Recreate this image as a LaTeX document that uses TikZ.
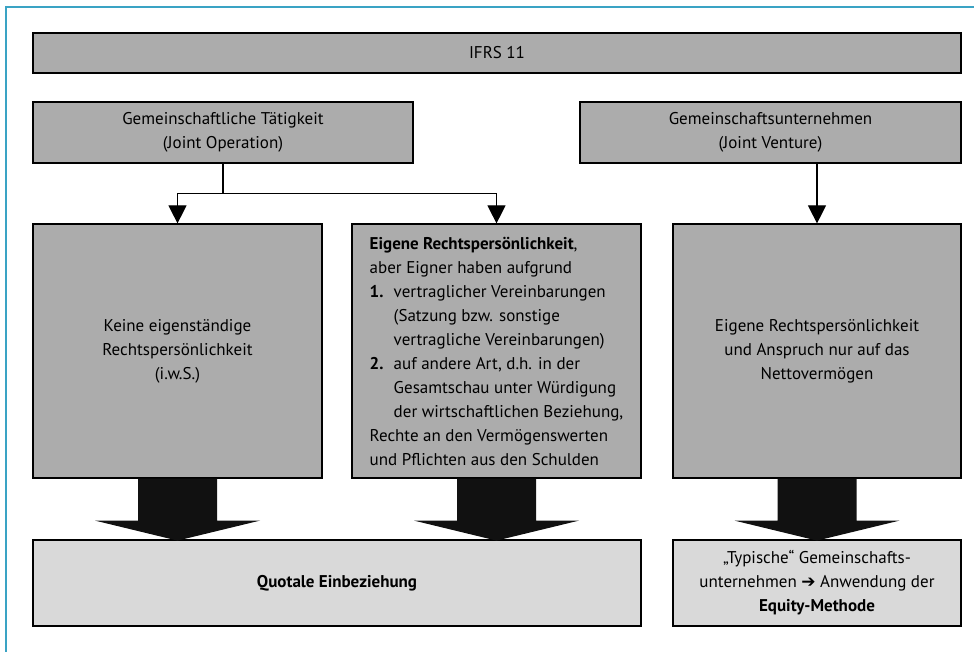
\documentclass[tikz,border=0pt]{standalone}
\usepackage{fontspec}
\setmainfont{PT Sans}
\newfontfamily\arrowfont{DejaVu Sans}
\usepackage{xcolor}
\usetikzlibrary{arrows.meta}

\definecolor{frameblue}{HTML}{3AA3C4}
\definecolor{boxgray}{HTML}{ACACAC}
\definecolor{resultgray}{HTML}{D9D9D9}
\definecolor{arrowblack}{HTML}{111111}

\tikzset{
  box/.style={draw=black, line width=1.2pt, fill=boxgray, align=center,
    inner sep=0pt, font=\fontsize{17}{24}\selectfont},
  resultbox/.style={box, fill=resultgray},
  conn/.style={line width=1.2pt, -{Triangle[width=18pt,length=18pt]}},
  bigarrow/.style={fill=arrowblack}
}
% thick block arrow below a box
\newcommand{\fatarrow}[1]{%
  \fill[bigarrow] (#1.south) ++(-39.5,0) -- ++(0,42) -- ++(-43,0)
    -- ++(82.5,20) -- ++(82.5,-20) -- ++(-43,0) -- ++(0,-42) -- cycle;}

\begin{document}
\begin{tikzpicture}[x=1pt, y=-1pt]
\useasboundingbox (0,0) rectangle (974,652);
\fill[white] (0,0) rectangle (974,652);
\draw[frameblue, line width=2.5pt] (6,652) -- (6,7) -- (974,7);

% top row
\node[box, minimum width=928, minimum height=40] (ifrs) at (497,53) {IFRS 11};
\node[box, minimum width=380, minimum height=61] (jo) at (223,132.5)
  {Gemeinschaftliche Tätigkeit\\(Joint Operation)};
\node[box, minimum width=381, minimum height=61] (jv) at (770.5,132.5)
  {Gemeinschaftsunternehmen\\(Joint Venture)};

% middle row
\node[box, minimum width=289, minimum height=254] (keine) at (177.5,351)
  {Keine eigenständige\\Rechtspersönlichkeit\\(i.w.S.)};
\node[box, minimum width=289, minimum height=254, align=left] (eigene) at (496.5,351)
  {\textbf{Eigene Rechtspersönlichkeit},\\
   aber Eigner haben aufgrund\\
   \makebox[24pt][l]{\textbf{1.}}vertraglicher Vereinbarungen\\
   \hspace*{24pt}(Satzung bzw. sonstige\\
   \hspace*{24pt}vertragliche Vereinbarungen)\\
   \makebox[24pt][l]{\textbf{2.}}auf andere Art, d.h. in der\\
   \hspace*{24pt}Gesamtschau unter Würdigung\\
   \hspace*{24pt}der wirtschaftlichen Beziehung,\\
   Rechte an den Vermögenswerten\\
   und Pflichten aus den Schulden};
\node[box, minimum width=288, minimum height=254] (nv) at (817,351)
  {Eigene Rechtspersönlichkeit\\und Anspruch nur auf das\\Nettovermögen};

% bottom row
\node[resultbox, minimum width=608, minimum height=86] (quotal) at (337,583)
  {\textbf{Quotale Einbeziehung}};
\node[resultbox, minimum width=288, minimum height=86] (equity) at (817,583)
  {„Typische“ Gemeinschafts-\\
   unternehmen {\arrowfont ➔} Anwendung der\\
   \textbf{Equity-Methode}};

% connectors
\draw[conn] (jo.south) -- ++(0,30) -| (keine.north);
\draw[conn] (jo.south) -- ++(0,30) -| (eigene.north);
\draw[conn] (nv.north |- jv.south) -- (nv.north);

\fatarrow{keine}
\fatarrow{eigene}
\fatarrow{nv}
\end{tikzpicture}
\end{document}
